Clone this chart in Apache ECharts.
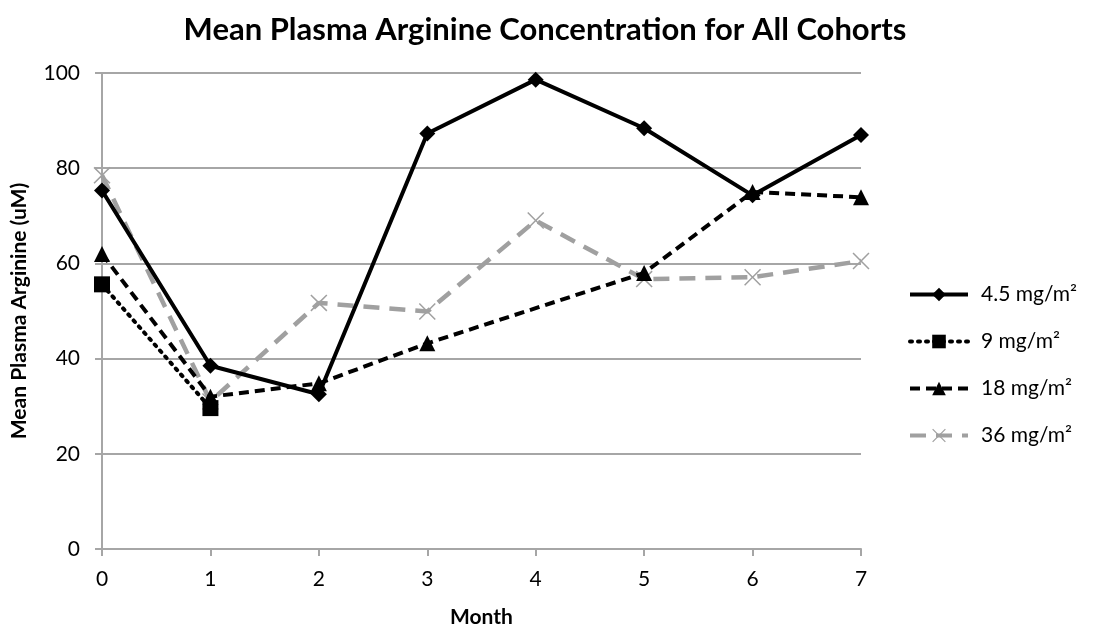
<!DOCTYPE html>
<html>
<head>
<meta charset="utf-8">
<script src="https://cdn.jsdelivr.net/npm/echarts@6/dist/echarts.min.js"></script>
<style>
  html, body { margin: 0; padding: 0; background: #fff; }
  #chart { width: 1093px; height: 633px; }
</style>
</head>
<body>
<div id="chart"></div>
<script>
// months on the x axis
const months = [0, 1, 2, 3, 4, 5, 6, 7];
const dose45 = [75.3, 38.5, 32.5, 87.3, 98.6, 88.4, 74.3, 87.0];
const dose9 = [55.6, 29.6, null, null, null, null, null, null];
const dose18 = [62.0, 32.0, 34.8, 43.2, null, 58.0, 75.0, 73.9];
const dose36 = [78.5, 31.0, 51.7, 49.9, 69.0, 56.7, 57.1, 60.5];
const seriesNames = ["4.5 mg/m\u00b2", "9 mg/m\u00b2", "18 mg/m\u00b2", "36 mg/m\u00b2"];

const font = "Lato, 'Open Sans', sans-serif";
const pairs = arr => months.map((m, i) => [m, arr[i]]);

// thin X marker
const crossPath = "path://M0,1L1,0L8,7L15,0L16,1L9,8L16,15L15,16L8,9L1,16L0,15L7,8Z";

const myChart = echarts.init(document.getElementById("chart"));
myChart.setOption({
  animation: false,
  title: {
    text: "Mean Plasma Arginine Concentration for All Cohorts",
    left: 540,
    textAlign: "center",
    top: 9,
    textStyle: { fontFamily: font, fontSize: 31, fontWeight: "bold", color: "#000" }
  },
  grid: { left: 102, right: 232, top: 73, bottom: 84, containLabel: false },
  legend: {
    orient: "vertical",
    left: 903,
    top: 279,
    itemWidth: 58,
    itemHeight: 17,
    itemGap: 26,
    lineStyle: { width: 4 },
    textStyle: { fontFamily: font, fontSize: 21, color: "#000", padding: [0, 0, 0, 8] },
    data: seriesNames
  },
  xAxis: {
    type: "value",
    min: 0,
    max: 7,
    interval: 1,
    name: "Month",
    nameLocation: "middle",
    nameGap: 58,
    nameTextStyle: { fontFamily: font, fontSize: 21, fontWeight: "bold", color: "#000" },
    axisLine: { lineStyle: { color: "#a6a6a6", width: 2 } },
    axisTick: { show: true, length: 7, lineStyle: { color: "#a6a6a6", width: 2 } },
    axisLabel: { fontFamily: font, fontSize: 21, color: "#000", margin: 20 },
    splitLine: { show: false }
  },
  yAxis: {
    type: "value",
    min: 0,
    max: 100,
    interval: 20,
    name: "Mean Plasma Arginine (uM)",
    nameLocation: "middle",
    nameGap: 72,
    nameTextStyle: { fontFamily: font, fontSize: 21, fontWeight: "bold", color: "#000" },
    axisLine: { show: true, lineStyle: { color: "#a6a6a6", width: 2 } },
    axisTick: { show: true, length: 7, lineStyle: { color: "#a6a6a6", width: 2 } },
    axisLabel: { fontFamily: font, fontSize: 21, color: "#000", margin: 22 },
    splitLine: { lineStyle: { color: "#a6a6a6", width: 2 } }
  },
  series: [
    {
      name: seriesNames[0],
      type: "line",
      data: pairs(dose45),
      symbol: "diamond",
      symbolSize: 16,
      lineStyle: { color: "#000", width: 4, type: "solid" },
      itemStyle: { color: "#000" },
      z: 5
    },
    {
      name: seriesNames[1],
      type: "line",
      data: pairs(dose9),
      symbol: "rect",
      symbolSize: 16,
      lineStyle: { color: "#000", width: 4, type: [2, 6], cap: "round" },
      itemStyle: { color: "#000" },
      z: 4
    },
    {
      name: seriesNames[2],
      type: "line",
      data: pairs(dose18),
      connectNulls: true,
      symbol: "triangle",
      symbolSize: 16,
      lineStyle: { color: "#000", width: 4, type: [10, 6] },
      itemStyle: { color: "#000" },
      z: 3
    },
    {
      name: seriesNames[3],
      type: "line",
      data: pairs(dose36),
      symbol: crossPath,
      symbolSize: 17,
      lineStyle: { color: "#a0a0a0", width: 4.5, type: [16, 10] },
      itemStyle: { color: "#a0a0a0" },
      z: 2
    }
  ]
});
</script>
</body>
</html>
